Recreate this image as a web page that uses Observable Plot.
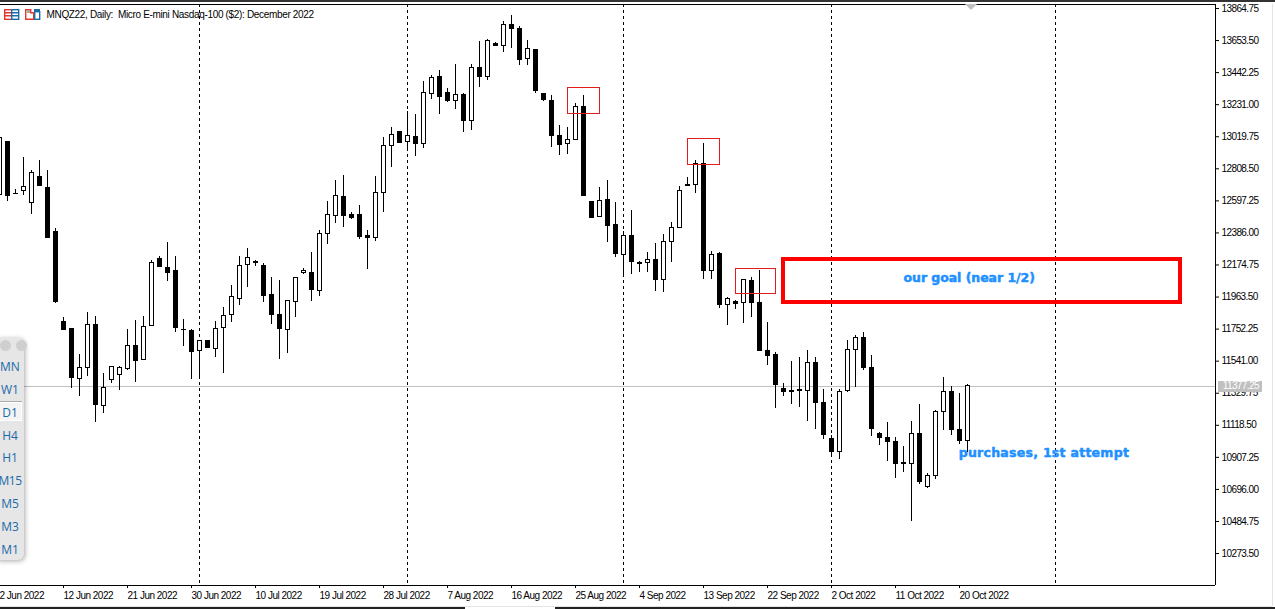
<!DOCTYPE html>
<html>
<head>
<meta charset="utf-8">
<script src="https://cdn.jsdelivr.net/npm/d3@7"></script>
<script src="https://cdn.jsdelivr.net/npm/@observablehq/plot@0.6"></script>
<style>
html,body{margin:0;padding:0;background:#fff;overflow:hidden;}
#wrap{position:relative;width:1275px;height:609px;overflow:hidden;}
#wrap svg{display:block;}
.ov{position:absolute;}
#panel{left:-6px;top:338px;width:30px;height:222px;background:#e6e6e6;border-radius:6px;box-shadow:1px 1px 5px rgba(0,0,0,.35);font:12px "Open Sans",sans-serif;color:#1b6aa8;}
#panel div.t{position:absolute;left:0;width:32px;text-align:center;line-height:16px;}
#panel .c{position:absolute;top:2px;width:11px;height:11px;border-radius:50%;background:#cfcfcf;}
#wrap svg [aria-label="y-axis tick label"] text{letter-spacing:-0.6px;}
#wrap svg [aria-label="x-axis tick label"] text{letter-spacing:-0.5px;}
</style>
</head>
<body>
<div id="wrap"></div>
<script>
const firstBar = -1;
const open = [12633,12982,12644,12661,12584,12756,12683,12389,11800,11754,11425,11497,11781,11247,11418,11451,11488,11642,11550,11774,12215,12156,12136,11748,11741,11609,11675,11622,11761,11846,11950,12176,12196,12169,11978,11846,11748,11932,12121,12123,12002,12380,12499,12620,12501,12501,12363,12354,12650,12960,13048,12986,13015,12973,13303,13415,13309,13254,13296,13125,13474,13412,13632,13619,13757,13731,13531,13592,13303,13256,13026,12973,12999,13217,12591,12490,12604,12439,12240,12367,12189,12189,12209,12077,12327,12420,12705,12703,12841,12136,12244,11912,11928,11925,12070,11925,11609,11583,11359,11346,11348,11346,11530,11267,11029,10944,11346,11616,11695,11497,11064,11036,11010,10867,10865,11062,10711,10786,11207,11339,11089,11016];
const high = [13028,12988,12670,12881,12795,12863,12797,12413,11829,11754,11585,11862,11835,11460,11504,11506,11750,11809,11835,12202,12229,12323,12231,11816,11748,11677,11675,11800,11895,12040,12231,12283,12202,12182,12092,12073,11939,12090,12149,12257,12400,12593,12729,12764,12518,12567,12402,12756,13015,13081,13048,13186,13166,13384,13423,13456,13336,13496,13303,13494,13647,13658,13641,13779,13819,13744,13652,13592,13303,13292,13094,13081,13237,13292,12591,12685,12729,12587,12393,12534,12198,12257,12316,12376,12453,12692,12751,12861,12975,12261,12257,11958,11939,12077,12092,12138,11796,11598,11394,11539,11565,11611,11563,11354,11049,11352,11677,11708,11730,11578,11071,11137,11036,10979,11144,11256,10799,11216,11434,11374,11328,11385];
const low = [12611,12595,12644,12635,12510,12694,12352,11923,11741,11363,11311,11440,11139,11199,11396,11350,11482,11403,11550,11774,12160,12068,11732,11640,11422,11429,11627,11567,11462,11798,11910,12029,12167,11930,11785,11554,11594,11831,12114,11934,11969,12312,12450,12424,12477,12345,12147,12332,12523,12819,12978,12925,12892,12945,13267,13166,13248,13202,13050,13063,13344,13390,13617,13577,13603,13491,13491,13307,13254,12951,12898,12905,12999,12628,12483,12485,12325,12226,12095,12114,12128,12128,12002,11996,12193,12420,12694,12648,12081,12081,11890,11778,11884,11791,11831,11607,11515,11231,11311,11258,11238,11146,11093,11027,10915,10895,11337,11370,11482,11047,10985,10882,10770,10810,10487,10731,10704,10761,11086,11054,10994,10942];
const close = [13013,12628,12643,12690,12782,12694,12352,11928,11745,11429,11497,11781,11251,11365,11504,11497,11642,11541,11767,12189,12160,12125,11759,11747,11600,11673,11627,11752,11840,11965,12169,12222,12185,11969,11844,11752,11939,12090,12136,12009,12380,12505,12631,12497,12483,12358,12352,12650,12960,13032,12978,13026,12971,13309,13408,13281,13254,13296,13122,13474,13412,13652,13617,13757,13729,13524,13599,13320,13261,13024,12964,12999,13217,12628,12483,12598,12431,12246,12367,12193,12182,12209,12075,12327,12420,12663,12694,12841,12134,12242,11910,11952,11919,12077,11923,11607,11574,11383,11337,11337,11343,11530,11267,11054,10942,11339,11616,11695,11495,11095,11034,11007,10862,10862,11062,10744,10786,11207,11339,11086,11014,11377.25];

const priceTicks = [13864.75,13653.5,13442.25,13231,13019.75,12808.5,12597.25,12386,12174.75,11963.5,11752.25,11541,11329.75,11118.5,10907.25,10696,10484.75,10273.5];
const dateTickBars = [-1,7,15,23,31,39,47,55,63,71,79,87,95,103,111,119];
const dateTickLabels = ["2 Jun 2022","12 Jun 2022","21 Jun 2022","30 Jun 2022","10 Jul 2022","19 Jul 2022","28 Jul 2022","7 Aug 2022","16 Aug 2022","25 Aug 2022","4 Sep 2022","13 Sep 2022","22 Sep 2022","2 Oct 2022","11 Oct 2022","20 Oct 2022"];
const monthStartBars = [24,50,77,103,131];
const lastPrice = 11377.25;
const thinBoxes = [
  {x1:70,x2:74,y1:13344,y2:13170},
  {x1:85,x2:89,y1:13005,y2:12834},
  {x1:91,x2:96,y1:12148,y2:11984}
];
const goalBox = [{x1:97,x2:146.6,y1:12214,y2:11929}];
const notes = [
  {x:112,y:12086,t:"our goal (near 1/2)"},
  {x:118.9,y:10933,t:"purchases, 1st attempt"}
];
const noteSpacing = {"our goal (near 1/2)":"-0.05px","purchases, 1st attempt":"0.27px"};
const titleText = "MNQZ22, Daily:  Micro E-mini Nasdaq-100 ($2): December 2022";
const xDomain = [-0.875,151];
const yDomain = [13891.1,10062.9];
const priceTag = {x1:151.4,x2:156.9,y1:11407,y2:11335,tx:151.9};
const timeframes = [["MN",367],["W1",390],["D1",413],["H4",436],["H1",458],["M15",481],["M5",504],["M3",527],["M1",550]];

const bars = open.map((o,i)=>({i:i+firstBar,o,h:high[i],l:low[i],c:close[i],up:close[i]>=o}));
const axisFont = {fontFamily:'"Liberation Sans",sans-serif',fontSize:10};

const chart = Plot.plot({
  width:1275,height:609,
  marginLeft:0,marginRight:60,marginTop:4,marginBottom:24,
  x:{domain:xDomain,range:[0,1215],axis:null},
  y:{domain:yDomain,range:[4,585],axis:null},
  style:{background:"#fff",overflow:"hidden"},
  marks:[
    Plot.ruleX(monthStartBars,{stroke:"#000",strokeDasharray:"3,3",strokeWidth:1,shapeRendering:"crispEdges"}),
    Plot.ruleY([lastPrice],{stroke:"#c0c0c0",strokeWidth:1,shapeRendering:"crispEdges"}),
    Plot.ruleX(bars,{x:"i",y1:"l",y2:"h",stroke:"#000",strokeWidth:1,shapeRendering:"crispEdges"}),
    Plot.rect(bars,{x1:d=>d.i-0.25,x2:d=>d.i+0.25,y1:d=>Math.max(d.o,d.c),y2:d=>Math.min(d.o,d.c),
      fill:d=>d.up?"#fff":"#000",stroke:"#000",strokeWidth:1,shapeRendering:"crispEdges"}),
    Plot.rect(thinBoxes,{x1:"x1",x2:"x2",y1:"y1",y2:"y2",fill:"none",stroke:"#e01e1e",strokeWidth:1,shapeRendering:"crispEdges"}),
    Plot.rect(goalBox,{x1:"x1",x2:"x2",y1:"y1",y2:"y2",fill:"none",stroke:"#ff0000",strokeWidth:4,shapeRendering:"crispEdges"}),
    Plot.text(notes,{x:"x",y:"y",text:"t",textAnchor:"start",fill:"#1e90ff",stroke:"#1e90ff",strokeWidth:0.5,fontWeight:"bold",
      fontFamily:'"DejaVu Sans",sans-serif',fontSize:12.5,lineAnchor:"middle"}),
    Plot.text([titleText],{frameAnchor:"top-left",dx:46,dy:6,fill:"#000",fontSize:10,fontFamily:'"Liberation Sans",sans-serif',textAnchor:"start"}),
    // frame
    Plot.ruleY([yDomain[0],yDomain[1]],{stroke:"#000",strokeWidth:1,shapeRendering:"crispEdges"}),
    Plot.ruleX([xDomain[1]],{stroke:"#000",strokeWidth:1,shapeRendering:"crispEdges"}),
    Plot.axisY(priceTicks,{anchor:"right",tickSize:3,tickPadding:3,label:null,tickFormat:d=>d.toFixed(2),...axisFont}),
    Plot.axisX(dateTickBars,{anchor:"bottom",tickSize:3,tickPadding:3,label:null,textAnchor:"start",
      tickFormat:d=>dateTickLabels[dateTickBars.indexOf(d)],...axisFont}),
    Plot.rect([priceTag],{x1:"x1",x2:"x2",y1:"y1",y2:"y2",fill:"#c0c0c0",shapeRendering:"crispEdges"}),
    Plot.text([priceTag],{x:"tx",y:lastPrice,text:d=>lastPrice.toFixed(2),textAnchor:"start",fill:"#fff",
      fontFamily:'"Liberation Sans",sans-serif',fontSize:10})
  ]
});
const wrap = document.getElementById("wrap");
wrap.appendChild(chart);

// letter spacing that the marks do not expose as an option
chart.querySelectorAll("text").forEach(t=>{
  const s=t.textContent;
  if(s===titleText) t.style.letterSpacing="-0.33px";
  else if(noteSpacing[s]) t.style.letterSpacing=noteSpacing[s];
  else if(s===lastPrice.toFixed(2)) t.style.letterSpacing="-0.6px";
});

// window chrome and icons
function add(html){const d=document.createElement("div");d.innerHTML=html;while(d.firstChild)wrap.appendChild(d.firstChild);}
add(`<div class="ov" style="left:0;top:0;width:1275px;height:2px;background:#333"></div>
<div class="ov" style="left:1272px;top:4px;width:1px;height:602px;background:#e4e4e4"></div>
<div class="ov" style="left:0;top:606px;width:1272px;height:1px;background:#e4e4e4"></div>
<div class="ov" style="left:0;top:607px;width:465px;height:2px;background:#222"></div>
<div class="ov" style="left:555px;top:607px;width:720px;height:2px;background:#222"></div>
<svg class="ov" style="left:965px;top:4px" width="12" height="6"><path d="M0 0H12L6 6Z" fill="#c0c0c0"/></svg>
<svg class="ov" style="left:4px;top:9px" width="38" height="12" fill="none" stroke-width="1.4">
<rect x=".7" y=".7" width="7" height="9.6" fill="#fff" stroke="#e0392b"/><rect x="7.7" y=".7" width="7" height="9.6" fill="#fff" stroke="#1b6aa8"/>
<path d="M1 3.8H7M1 6.8H7" stroke="#e0392b"/><path d="M8 3.8H14M8 6.8H14" stroke="#1b6aa8"/>
<path d="M21.7 .7h5v3h3v6.6h-8z" fill="#fff" stroke="#e0392b"/><rect x="30.7" y="2.7" width="5" height="7.6" fill="#fff" stroke="#1b6aa8"/><rect x="30" y="0" width="6" height="3" fill="#1b6aa8" stroke="none"/><rect x="23" y="1" width="3" height="3" fill="#aaa" stroke="none"/>
</svg>
<div id="panel" class="ov"><div class="c" style="left:6px"></div><div class="c" style="left:22px"></div>
<div style="position:absolute;left:0;top:63px;width:28px;height:1px;background:#aaa"></div>
<div style="position:absolute;left:0;top:64px;width:28px;height:19px;background:#f4f4f4;border:1px solid #fff;box-sizing:border-box"></div>
</div>`);
const panel=document.getElementById("panel");
timeframes.forEach(([t,y])=>{const e=document.createElement("div");e.className="t";e.textContent=t;e.style.top=(y-338-8)+"px";if(t==="M15")e.style.letterSpacing="-0.5px";panel.appendChild(e);});
</script>
</body>
</html>
